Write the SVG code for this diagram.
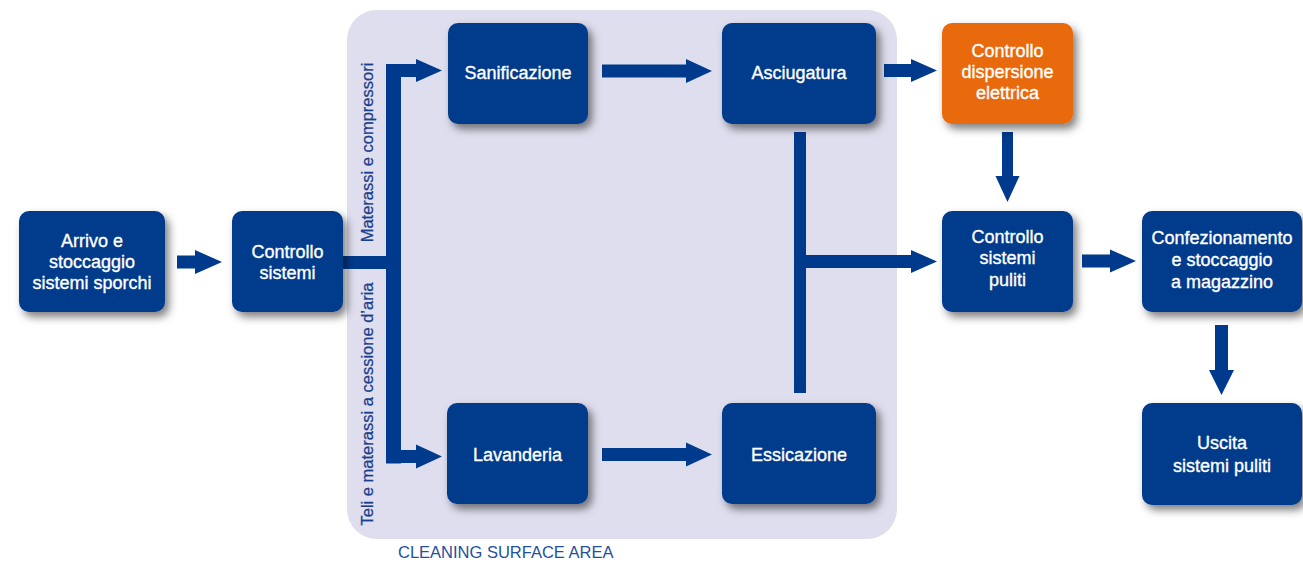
<svg xmlns="http://www.w3.org/2000/svg" width="1303" height="563" viewBox="0 0 1303 563">
<defs>
<filter id="sh" x="-20%" y="-20%" width="150%" height="160%">
<feDropShadow dx="4" dy="5" stdDeviation="4" flood-color="#000" flood-opacity="0.5"/>
</filter>
<style>
.box{fill:#003a8c;filter:url(#sh)}
.org{fill:#e96b10;filter:url(#sh)}
.t{font-family:"Liberation Sans",Arial,sans-serif;font-size:18px;fill:#fff;stroke:#fff;stroke-width:0.35;text-anchor:middle}
.conn{fill:#003a8c}
.vl{font-family:"Liberation Sans",Arial,sans-serif;font-size:16.5px;fill:#1a3f8c;stroke:#1a3f8c;stroke-width:0.25;text-anchor:middle}
.area{font-family:"Liberation Sans",Arial,sans-serif;font-size:16.5px;fill:#23509e}
</style>
</defs>
<rect width="1303" height="563" fill="#fff"/>
<rect id="panel" x="347" y="10" width="550" height="529" rx="30" fill="#dedeee"/>
<text class="area" x="398" y="558">CLEANING SURFACE AREA</text>
<text class="vl" transform="translate(373,152.5) rotate(-90)">Materassi e compressori</text>
<text class="vl" transform="translate(373,404) rotate(-90)">Teli e materassi a cessione d’aria</text>
<g id="connectors" class="conn">
<polygon points="177,255.5 195,255.5 195,250 222,262 195,274 195,268.5 177,268.5"/>
<rect x="343" y="256" width="58" height="13"/>
<rect x="386" y="64" width="15" height="399.5"/>
<polygon points="386,64 416,64 416,59 442,70.5 416,82 416,77 386,77"/>
<polygon points="386,450 416,450 416,444.5 442,456.5 416,468.5 416,463 386,463"/>
<polygon points="602,64.5 686,64.5 686,59 712,71 686,83 686,77.5 602,77.5"/>
<polygon points="602,448 686,448 686,442.5 712,454.5 686,466.5 686,461 602,461"/>
<polygon points="884,64 911,64 911,59 937,70.5 911,82 911,77 884,77"/>
<rect x="794" y="132" width="12" height="261"/>
<polygon points="806,255 911,255 911,250 937,261.5 911,273 911,268 806,268"/>
<polygon points="1002,132 1013,132 1013,176 1019.5,176 1007.5,202 995.5,176 1002,176"/>
<polygon points="1082,254.5 1110,254.5 1110,249.5 1136,261 1110,272.5 1110,267.5 1082,267.5"/>
<polygon points="1215,325 1228,325 1228,370 1234,370 1221.5,395 1209,370 1215,370"/>
</g>
<g id="arrivo"><rect class="box" x="19" y="211" width="146" height="101" rx="10"/>
<text class="t" x="92" y="247">Arrivo e</text><text class="t" x="92" y="268">stoccaggio</text><text class="t" x="92" y="289">sistemi sporchi</text></g>
<g id="controllo"><rect class="box" x="232" y="211" width="111" height="101" rx="10"/>
<text class="t" x="287.5" y="258">Controllo</text><text class="t" x="287.5" y="279">sistemi</text></g>
<g id="sanificazione"><rect class="box" x="448" y="23" width="140" height="101" rx="10"/>
<text class="t" x="518" y="79">Sanificazione</text></g>
<g id="lavanderia"><rect class="box" x="447" y="403" width="141" height="101" rx="10"/>
<text class="t" x="517.5" y="461">Lavanderia</text></g>
<g id="asciugatura"><rect class="box" x="722" y="23" width="154" height="101" rx="10"/>
<text class="t" x="799" y="79">Asciugatura</text></g>
<g id="essicazione"><rect class="box" x="722" y="403" width="154" height="101" rx="10"/>
<text class="t" x="799" y="461">Essicazione</text></g>
<g id="dispersione"><rect class="org" x="942" y="23" width="131" height="101" rx="10"/>
<text class="t" x="1007.5" y="57">Controllo</text><text class="t" x="1007.5" y="78">dispersione</text><text class="t" x="1007.5" y="99">elettrica</text></g>
<g id="puliti"><rect class="box" x="942" y="211" width="131" height="101" rx="10"/>
<text class="t" x="1007.5" y="243">Controllo</text><text class="t" x="1007.5" y="264">sistemi</text><text class="t" x="1007.5" y="286">puliti</text></g>
<g id="confezionamento"><rect class="box" x="1142" y="211" width="160" height="101" rx="10"/>
<text class="t" x="1222" y="244">Confezionamento</text><text class="t" x="1222" y="266">e stoccaggio</text><text class="t" x="1222" y="288">a magazzino</text></g>
<g id="uscita"><rect class="box" x="1142" y="403" width="160" height="102" rx="10"/>
<text class="t" x="1222" y="449">Uscita</text><text class="t" x="1222" y="472">sistemi puliti</text></g>
</svg>
